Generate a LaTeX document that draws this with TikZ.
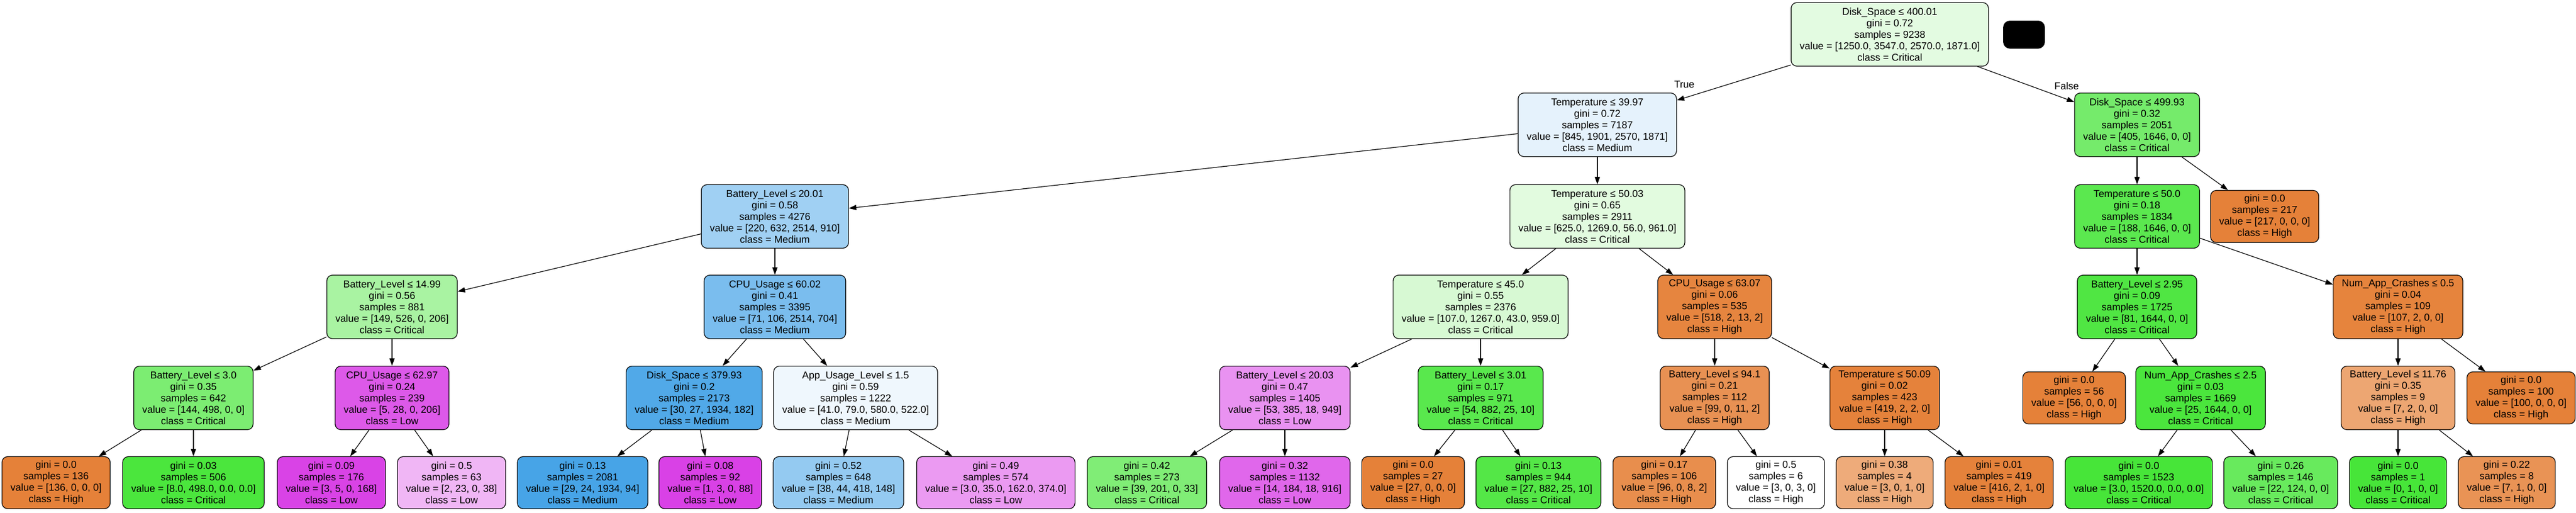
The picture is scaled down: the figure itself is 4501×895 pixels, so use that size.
\documentclass[tikz,border=0pt]{standalone}
\usepackage{fontspec}
\setmainfont{Liberation Sans}
\usetikzlibrary{arrows.meta}
\definecolor{cH}{RGB}{229,129,57}
\definecolor{cC}{RGB}{71,229,57}
\definecolor{cM}{RGB}{57,157,229}
\definecolor{cL}{RGB}{215,57,229}
\newcommand{\treefont}{\fontsize{17.5}{20}\selectfont}
\begin{document}
\begin{tikzpicture}[x=1pt,y=-1pt,
  tn/.style={draw, rounded corners=10pt, line width=1.2pt, align=center, inner xsep=15pt, inner ysep=0pt, minimum height=111pt, font=\treefont},
  lf/.style={tn, minimum height=91pt},
  edge/.style={-{Triangle[length=13pt,width=9pt]}, line width=1.2pt},
  lbl/.style={font=\treefont, inner sep=0pt}]
\useasboundingbox (0,0) rectangle (4501,895);
% level 0
\node[tn, fill=cC!15!white] (r) at (3302,60) {Disk\_Space ≤ 400.01\\gini = 0.72\\samples = 9238\\value = [1250.0, 3547.0, 2570.0, 1871.0]\\class = Critical};
\node[fill=black, rounded corners=12pt, minimum width=73pt, minimum height=49pt, inner sep=0pt] (blob) at (3536.5,60.5) {};
% level 1
\node[tn, fill=cM!13!white] (n1) at (2791,218) {Temperature ≤ 39.97\\gini = 0.72\\samples = 7187\\value = [845, 1901, 2570, 1871]\\class = Medium};
\node[tn, fill=cC!75!white] (n2) at (3734,218) {Disk\_Space ≤ 499.93\\gini = 0.32\\samples = 2051\\value = [405, 1646, 0, 0]\\class = Critical};
% level 2
\node[tn, fill=cM!48!white] (n3) at (1354,378) {Battery\_Level ≤ 20.01\\gini = 0.58\\samples = 4276\\value = [220, 632, 2514, 910]\\class = Medium};
\node[tn, fill=cC!16!white] (n4) at (2791,378) {Temperature ≤ 50.03\\gini = 0.65\\samples = 2911\\value = [625.0, 1269.0, 56.0, 961.0]\\class = Critical};
\node[tn, fill=cC!89!white] (n5) at (3734,378) {Temperature ≤ 50.0\\gini = 0.18\\samples = 1834\\value = [188, 1646, 0, 0]\\class = Critical};
\node[lf, fill=cH] (n6) at (3957,378) {gini = 0.0\\samples = 217\\value = [217, 0, 0, 0]\\class = High};
% level 3
\node[tn, fill=cC!47!white] (n7) at (685,536) {Battery\_Level ≤ 14.99\\gini = 0.56\\samples = 881\\value = [149, 526, 0, 206]\\class = Critical};
\node[tn, fill=cM!67!white] (n8) at (1354,536) {CPU\_Usage ≤ 60.02\\gini = 0.41\\samples = 3395\\value = [71, 106, 2514, 704]\\class = Medium};
\node[tn, fill=cC!22!white] (n9) at (2587,536) {Temperature ≤ 45.0\\gini = 0.55\\samples = 2376\\value = [107.0, 1267.0, 43.0, 959.0]\\class = Critical};
\node[tn, fill=cH!97!white] (n10) at (2996,536) {CPU\_Usage ≤ 63.07\\gini = 0.06\\samples = 535\\value = [518, 2, 13, 2]\\class = High};
\node[tn, fill=cC!95!white] (n11) at (3734,536) {Battery\_Level ≤ 2.95\\gini = 0.09\\samples = 1725\\value = [81, 1644, 0, 0]\\class = Critical};
\node[tn, fill=cH!98!white] (n12) at (4190,536) {Num\_App\_Crashes ≤ 0.5\\gini = 0.04\\samples = 109\\value = [107, 2, 0, 0]\\class = High};
% level 4
\node[tn, fill=cC!71!white] (n13) at (338,695) {Battery\_Level ≤ 3.0\\gini = 0.35\\samples = 642\\value = [144, 498, 0, 0]\\class = Critical};
\node[tn, fill=cL!84!white] (n14) at (685,695) {CPU\_Usage ≤ 62.97\\gini = 0.24\\samples = 239\\value = [5, 28, 0, 206]\\class = Low};
\node[tn, fill=cM!88!white] (n15) at (1213,695) {Disk\_Space ≤ 379.93\\gini = 0.2\\samples = 2173\\value = [30, 27, 1934, 182]\\class = Medium};
\node[tn, fill=cM!8!white] (n16) at (1495,695) {App\_Usage\_Level ≤ 1.5\\gini = 0.59\\samples = 1222\\value = [41.0, 79.0, 580.0, 522.0]\\class = Medium};
\node[tn, fill=cL!55!white] (n17) at (2245,695) {Battery\_Level ≤ 20.03\\gini = 0.47\\samples = 1405\\value = [53, 385, 18, 949]\\class = Low};
\node[tn, fill=cC!90!white] (n18) at (2587,695) {Battery\_Level ≤ 3.01\\gini = 0.17\\samples = 971\\value = [54, 882, 25, 10]\\class = Critical};
\node[tn, fill=cH!87!white] (n19) at (2996,695) {Battery\_Level ≤ 94.1\\gini = 0.21\\samples = 112\\value = [99, 0, 11, 2]\\class = High};
\node[tn, fill=cH!99!white] (n20) at (3293,695) {Temperature ≤ 50.09\\gini = 0.02\\samples = 423\\value = [419, 2, 2, 0]\\class = High};
\node[lf, fill=cH] (n21) at (3624,695) {gini = 0.0\\samples = 56\\value = [56, 0, 0, 0]\\class = High};
\node[tn, fill=cC!98!white] (n22) at (3845,695) {Num\_App\_Crashes ≤ 2.5\\gini = 0.03\\samples = 1669\\value = [25, 1644, 0, 0]\\class = Critical};
\node[tn, fill=cH!71!white] (n23) at (4190,695) {Battery\_Level ≤ 11.76\\gini = 0.35\\samples = 9\\value = [7, 2, 0, 0]\\class = High};
\node[lf, fill=cH] (n24) at (4405,695) {gini = 0.0\\samples = 100\\value = [100, 0, 0, 0]\\class = High};
% level 5
\node[lf, fill=cH] (m1) at (98,843) {gini = 0.0\\samples = 136\\value = [136, 0, 0, 0]\\class = High};
\node[lf, fill=cC!98!white] (m2) at (338,843) {gini = 0.03\\samples = 506\\value = [8.0, 498.0, 0.0, 0.0]\\class = Critical};
\node[lf, fill=cL!95!white] (m3) at (579,843) {gini = 0.09\\samples = 176\\value = [3, 5, 0, 168]\\class = Low};
\node[lf, fill=cL!37!white] (m4) at (789,843) {gini = 0.5\\samples = 63\\value = [2, 23, 0, 38]\\class = Low};
\node[lf, fill=cM!93!white] (m5) at (1018,843) {gini = 0.13\\samples = 2081\\value = [29, 24, 1934, 94]\\class = Medium};
\node[lf, fill=cL!96!white] (m6) at (1241,843) {gini = 0.08\\samples = 92\\value = [1, 3, 0, 88]\\class = Low};
\node[lf, fill=cM!54!white] (m7) at (1465,843) {gini = 0.52\\samples = 648\\value = [38, 44, 418, 148]\\class = Medium};
\node[lf, fill=cL!51!white] (m8) at (1740,843) {gini = 0.49\\samples = 574\\value = [3.0, 35.0, 162.0, 374.0]\\class = Low};
\node[lf, fill=cC!69!white] (m9) at (2004,843) {gini = 0.42\\samples = 273\\value = [39, 201, 0, 33]\\class = Critical};
\node[lf, fill=cL!77!white] (m10) at (2245,843) {gini = 0.32\\samples = 1132\\value = [14, 184, 18, 916]\\class = Low};
\node[lf, fill=cH] (m11) at (2469,843) {gini = 0.0\\samples = 27\\value = [27, 0, 0, 0]\\class = High};
\node[lf, fill=cC!93!white] (m12) at (2688,843) {gini = 0.13\\samples = 944\\value = [27, 882, 25, 10]\\class = Critical};
\node[lf, fill=cH!90!white] (m13) at (2908,843) {gini = 0.17\\samples = 106\\value = [96, 0, 8, 2]\\class = High};
\node[lf, fill=white] (m14) at (3103,843) {gini = 0.5\\samples = 6\\value = [3, 0, 3, 0]\\class = High};
\node[lf, fill=cH!67!white] (m15) at (3293,843) {gini = 0.38\\samples = 4\\value = [3, 0, 1, 0]\\class = High};
\node[lf, fill=cH!99!white] (m16) at (3493,843) {gini = 0.01\\samples = 419\\value = [416, 2, 1, 0]\\class = High};
\node[lf, fill=cC] (m17) at (3737,843) {gini = 0.0\\samples = 1523\\value = [3.0, 1520.0, 0.0, 0.0]\\class = Critical};
\node[lf, fill=cC!82!white] (m18) at (3985,843) {gini = 0.26\\samples = 146\\value = [22, 124, 0, 0]\\class = Critical};
\node[lf, fill=cC] (m19) at (4190,843) {gini = 0.0\\samples = 1\\value = [0, 1, 0, 0]\\class = Critical};
\node[lf, fill=cH!86!white] (m20) at (4380,843) {gini = 0.22\\samples = 8\\value = [7, 1, 0, 0]\\class = High};
% labels
\node[lbl] (tl) at (2943,148) {True};
\node[lbl] (fl) at (3611,150) {False};
% edges
\draw[edge] (r) -- (n1);
\draw[edge] (r) -- (n2);
\draw[edge] (n1) -- (n3);
\draw[edge] (n1) -- (n4);
\draw[edge] (n2) -- (n5);
\draw[edge] (n2) -- (n6);
\draw[edge] (n3) -- (n7);
\draw[edge] (n3) -- (n8);
\draw[edge] (n4) -- (n9);
\draw[edge] (n4) -- (n10);
\draw[edge] (n5) -- (n11);
\draw[edge] (n5) -- (n12);
\draw[edge] (n7) -- (n13);
\draw[edge] (n7) -- (n14);
\draw[edge] (n8) -- (n15);
\draw[edge] (n8) -- (n16);
\draw[edge] (n9) -- (n17);
\draw[edge] (n9) -- (n18);
\draw[edge] (n10) -- (n19);
\draw[edge] (n10) -- (n20);
\draw[edge] (n11) -- (n21);
\draw[edge] (n11) -- (n22);
\draw[edge] (n12) -- (n23);
\draw[edge] (n12) -- (n24);
\draw[edge] (n13) -- (m1);
\draw[edge] (n13) -- (m2);
\draw[edge] (n14) -- (m3);
\draw[edge] (n14) -- (m4);
\draw[edge] (n15) -- (m5);
\draw[edge] (n15) -- (m6);
\draw[edge] (n16) -- (m7);
\draw[edge] (n16) -- (m8);
\draw[edge] (n17) -- (m9);
\draw[edge] (n17) -- (m10);
\draw[edge] (n18) -- (m11);
\draw[edge] (n18) -- (m12);
\draw[edge] (n19) -- (m13);
\draw[edge] (n19) -- (m14);
\draw[edge] (n20) -- (m15);
\draw[edge] (n20) -- (m16);
\draw[edge] (n22) -- (m17);
\draw[edge] (n22) -- (m18);
\draw[edge] (n23) -- (m19);
\draw[edge] (n23) -- (m20);
\end{tikzpicture}
\end{document}
